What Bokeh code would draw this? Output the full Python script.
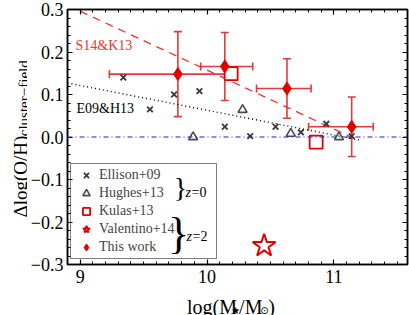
import math
from bokeh.plotting import figure
from bokeh.layouts import row, column
from bokeh.models import (ColumnDataSource, Whisker, Span, Label, Legend, LegendItem,
                          FixedTicker, LinearAxis, Range1d, TeeHead)
from bokeh.embed import file_html
from bokeh.resources import INLINE

# ---------------- data ----------------
ellison_mass = [9.34, 9.55, 9.74, 9.94, 10.14, 10.34, 10.54, 10.74, 10.94, 11.14]
ellison_doh = [0.140, 0.065, 0.100, 0.108, 0.024, 0.002, 0.024, 0.011, 0.031, 0.002]
hughes_mass = [9.89, 10.28, 10.66, 11.04]
hughes_doh = [0.000, 0.064, 0.008, 0.000]
kulas_mass = [10.19, 10.86]
kulas_doh = [0.149, -0.012]
valentino_mass = [10.45]
valentino_doh = [-0.256]
this_mass = [9.77, 10.14, 10.63, 11.14]
this_doh = [0.148, 0.166, 0.114, 0.024]
this_mass_lo = [9.23, 9.95, 10.39, 10.80]
this_mass_hi = [10.14, 10.36, 10.82, 11.31]
this_doh_err = [0.100, 0.080, 0.070, 0.070]
s14_mass = [9.0, 11.2]
s14_doh = [0.296, -0.009]
e09_mass = [8.9, 11.2]
e09_doh = [0.127, -0.007]
x_major = [9, 10, 11]
y_major = [-0.3, -0.2, -0.1, 0.0, 0.1, 0.2, 0.3]

SERIF = "'Liberation Serif'"
RED = "#e00000"
RED_ERR = "#e43a3a"
RED_LINE = "#e8352e"

X0, X1 = 8.9, 11.58
Y0, Y1 = -0.3, 0.3

# layout (page pixels; the page has no margin)
YLW = 27                 # width of the y-label strip
ML, MT, MR, MB = 37, 9, 4, 26
FW, FH = 340, 255
MAIN_W = ML + FW + MR
MAIN_H = MT + FH + MB
XLH = 315 - MAIN_H       # height of x-label strip
FRAME_L = YLW + ML
FRAME_T = MT

p = figure(x_range=Range1d(X0, X1), y_range=Range1d(Y0, Y1),
           frame_width=FW, frame_height=FH, output_backend="svg", title=None,
           toolbar_location=None, min_border_left=ML, min_border_top=MT,
           min_border_right=MR, min_border_bottom=MB)
p.xgrid.visible = False
p.ygrid.visible = False
p.background_fill_color = "white"
p.outline_line_color = "black"
p.outline_line_width = 1.5

xt = FixedTicker(ticks=x_major, minor_ticks=[round(8.9 + 0.1 * i, 2) for i in range(27)])
yt = FixedTicker(ticks=y_major, minor_ticks=[round(-0.3 + 0.02 * i, 2) for i in range(31)])

def fmt(v):
    s = "%.1f" % abs(v)
    return ("\u2212" + s) if v < -1e-9 else s

def style_axis(ax, show_labels):
    ax.axis_line_color = "black"
    ax.axis_line_width = 1.5
    ax.major_tick_in = 5
    ax.major_tick_out = 0
    ax.minor_tick_in = 3
    ax.minor_tick_out = 0
    ax.major_tick_line_width = 1.2
    ax.minor_tick_line_width = 1
    ax.major_tick_line_color = "black"
    ax.minor_tick_line_color = "black"
    if show_labels:
        ax.major_label_text_font = SERIF
        ax.major_label_text_font_size = "18px"
        ax.major_label_text_color = "black"
    else:
        ax.major_label_text_font_size = "1px"
        ax.major_label_text_color = None
        ax.major_label_standoff = 0

p.xaxis.ticker = xt
p.yaxis.ticker = yt
p.xaxis.major_label_overrides = {v: str(v) for v in x_major}
p.yaxis.major_label_overrides = {v: fmt(v) for v in y_major}
style_axis(p.xaxis[0], True)
style_axis(p.yaxis[0], True)
p.xaxis.major_label_standoff = 5
p.yaxis.major_label_standoff = 4

top_ax = LinearAxis(ticker=xt)
right_ax = LinearAxis(ticker=yt)
style_axis(top_ax, False)
style_axis(right_ax, False)
p.add_layout(top_ax, "above")
p.add_layout(right_ax, "right")

# reference lines
p.add_layout(Span(location=0, dimension="width", line_color="#1020e0",
                  line_width=1.2, line_dash="5 3 1 3"))
p.line(e09_mass, e09_doh, line_color="black", line_width=1.4, line_dash="1 3")
p.line(s14_mass, s14_doh, line_color=RED_LINE, line_width=1.3, line_dash="8 6")

# data sets
r_ell = p.scatter(ellison_mass, ellison_doh, marker="x", size=8,
                  line_color="#3a3a3a", line_width=1.8)
r_hug = p.scatter(hughes_mass, hughes_doh, marker="triangle", size=9,
                  fill_color=None, line_color="#4a4a4a", line_width=1.6)

src = ColumnDataSource(dict(x=this_mass, y=this_doh, xlo=this_mass_lo, xhi=this_mass_hi,
                            ylo=[a - b for a, b in zip(this_doh, this_doh_err)],
                            yhi=[a + b for a, b in zip(this_doh, this_doh_err)]))
for base, lo, hi, dim in (("x", "ylo", "yhi", "height"), ("y", "xlo", "xhi", "width")):
    w = Whisker(base=base, lower=lo, upper=hi, dimension=dim, source=src,
                line_color=RED_ERR, line_width=1.6,
                upper_head=TeeHead(size=8, line_color=RED_ERR, line_width=1.6),
                lower_head=TeeHead(size=8, line_color=RED_ERR, line_width=1.6))
    p.add_layout(w)

r_kul = p.scatter(kulas_mass, kulas_doh, marker="square", size=13,
                  fill_color="white", line_color=RED, line_width=1.8)
r_val = p.scatter(valentino_mass, valentino_doh, marker="star", size=24,
                  fill_color="white", line_color=RED, line_width=2)
r_this = p.scatter("x", "y", source=src, marker="diamond", size=13,
                   fill_color=RED, line_color=RED)

# legend (transparent so the braces drawn over it stay visible)
legend = Legend(items=[LegendItem(label="Ellison+09", renderers=[r_ell]),
                       LegendItem(label="Hughes+13", renderers=[r_hug]),
                       LegendItem(label="Kulas+13", renderers=[r_kul]),
                       LegendItem(label="Valentino+14", renderers=[r_val]),
                       LegendItem(label="This work", renderers=[r_this])],
                location=(3, 5), label_text_font=SERIF, label_text_font_size="14px",
                glyph_width=26, glyph_height=18, label_height=18, spacing=0,
                padding=2, label_standoff=0, label_width=115, margin=0,
                border_line_color="black", border_line_width=1,
                background_fill_alpha=0)
p.add_layout(legend)

# ---- text helpers (page pixel -> data coordinates of the main frame) ----
def xd(px):
    return X0 + (px - FRAME_L) / FW * (X1 - X0)

def yd(py):
    return Y1 - (py - FRAME_T) / FH * (Y1 - Y0)

def lab(fig, x, y, text, size, color="black", align="left", baseline="alphabetic",
        angle=0.0, style="normal", font=SERIF):
    fig.add_layout(Label(x=x, y=y, text=text, text_font=font, level="overlay",
                         text_font_size=size, text_color=color, text_align=align,
                         text_baseline=baseline, angle=angle, text_font_style=style))

# line annotations
lab(p, xd(72), yd(45), "S14&K13", "14px", color=RED_LINE)
lab(p, xd(73), yd(108), "E09&H13", "14px")

# braces and redshift labels
lab(p, xd(177), yd(187), "}", "28px", baseline="middle", align="center")
lab(p, xd(175), yd(233), "}", "44px", baseline="middle", align="center")
lab(p, xd(182), yd(192), "z", "14px", style="italic")
lab(p, xd(188), yd(192), "=0", "14px")
lab(p, xd(183), yd(236), "z", "14px", style="italic")
lab(p, xd(189), yd(236), "=2", "14px")

def blank(w, h):
    f = figure(width=w, height=h, x_range=Range1d(0, w), y_range=Range1d(0, h),
               output_backend="svg", toolbar_location=None, min_border=0, title=None,
               x_axis_location=None, y_axis_location=None)
    f.grid.visible = False
    f.outline_line_color = None
    return f

# x axis label strip: log(M*/Msun)
xl = blank(MAIN_W, XLH)
X_TOP = MAIN_H
XSHIFT = 24              # measured offset of the strip in the column
def xs(px):
    return px - YLW - XSHIFT
def ys_x(py):
    return XLH - (py - X_TOP)
bx = 186
lab(xl, xs(bx), ys_x(306), "log(M", "20px")
lab(xl, xs(bx + 50), ys_x(310), "\u2605", "10px", font="DejaVu Sans")
lab(xl, xs(bx + 59), ys_x(306), "/M", "20px")
lab(xl, xs(bx + 83), ys_x(310), "\u2299", "10px", font="DejaVu Sans")
lab(xl, xs(bx + 92), ys_x(306), ")", "20px")

# y axis label strip (rotated)
H_ALL = MAIN_H + XLH
yl = blank(YLW, H_ALL)
def ys_y(py):
    return H_ALL - py
MAIN_LEN = 4.278 * 19
lab(yl, 20, ys_y(217), "\u0394log(O/H)", "19px", angle=math.pi / 2)
lab(yl, 23, ys_y(217 - MAIN_LEN), "cluster\u2212field", "15px", angle=math.pi / 2)

layout = row(yl, column(p, xl, spacing=0), spacing=0)
open("out.html", "w").write(file_html(layout, INLINE))
